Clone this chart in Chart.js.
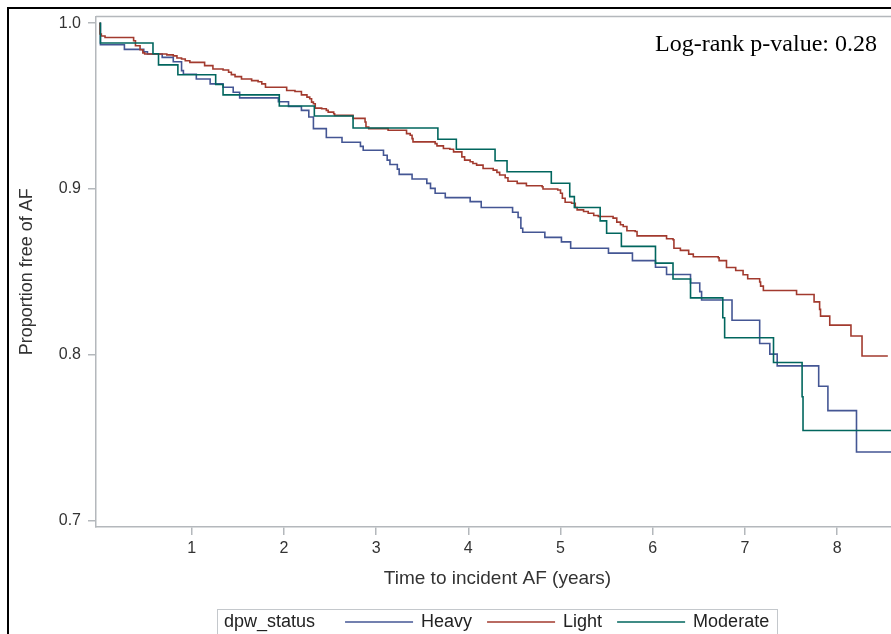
<!DOCTYPE html>
<html>
<head>
<meta charset="utf-8">
<title>Kaplan-Meier: proportion free of AF</title>
<script src="https://cdn.jsdelivr.net/npm/chart.js@4.4.1/dist/chart.umd.min.js"></script>
<style>
  html, body { margin: 0; padding: 0; background: #fff; overflow: hidden; width: 891px; height: 634px; }
  #wrap { position: relative; width: 891px; height: 634px; overflow: hidden; }
  #chartKM { position: absolute; left: 0; top: 0; }
  #frame {
    position: absolute; left: 7px; top: 7px; width: 900px; height: 700px;
    border-top: 2px solid #000; border-left: 2px solid #000; pointer-events: none;
  }
</style>
</head>
<body>
<div id="wrap">
  <canvas id="chartKM" width="899" height="634"></canvas>
  <div id="frame"></div>
</div>
<script>
/* ─────────────────────────────────────────
   DATOS
───────────────────────────────────────── */
const groupLabels = ["Heavy", "Light", "Moderate"];
const legendTitle = "dpw_status";
const pValueText = "Log-rank p-value: 0.28";
const xTitle = "Time to incident AF (years)";
const yTitle = "Proportion free of AF";
const xTickValues = [1, 2, 3, 4, 5, 6, 7, 8];
const yTickValues = [0.7, 0.8, 0.9, 1.0];

// Heavy
const heavyTime = [0, 0.01, 0.27, 0.48, 0.52, 0.68, 0.80, 0.89, 0.91, 1.05,
  1.20, 1.34, 1.45, 1.52, 1.94, 2.05, 2.19, 2.27, 2.32, 2.46,
  2.63, 2.83, 2.86, 3.08, 3.12, 3.15, 3.23, 3.25, 3.39, 3.55,
  3.59, 3.64, 3.75, 4.02, 4.14, 4.48, 4.54, 4.57, 4.59, 4.83,
  5.01, 5.11, 5.52, 5.78, 6.03, 6.15, 6.41, 6.51, 6.53, 6.86,
  7.16, 7.27, 7.35, 7.80, 7.90, 8.21, 8.70];
const heavySurv = [1.0, 0.9870, 0.9842, 0.9828, 0.9814, 0.9794, 0.9768, 0.9714, 0.9692, 0.9664,
  0.9634, 0.9614, 0.9584, 0.9550, 0.9526, 0.9498, 0.9474, 0.9434, 0.9364, 0.9311,
  0.9282, 0.9257, 0.9234, 0.9204, 0.9174, 0.9148, 0.9120, 0.9088, 0.9060, 0.9034,
  0.9004, 0.8974, 0.8948, 0.8924, 0.8888, 0.8860, 0.8828, 0.8763, 0.8739, 0.8708,
  0.8681, 0.8643, 0.8613, 0.8568, 0.8528, 0.8484, 0.8433, 0.8381, 0.8330, 0.8208,
  0.8068, 0.8004, 0.7933, 0.7810, 0.7663, 0.7413, 0.7413];

// Light
const lightTime = [0, 0.005, 0.02, 0.06, 0.37, 0.39, 0.44, 0.47, 0.49, 0.73,
  0.80, 0.84, 0.89, 0.93, 0.98, 1.14, 1.23, 1.34, 1.40, 1.43,
  1.47, 1.54, 1.65, 1.72, 1.76, 1.80, 2.03, 2.12, 2.19, 2.25,
  2.28, 2.30, 2.32, 2.34, 2.41, 2.46, 2.48, 2.54, 2.55, 2.75,
  2.88, 2.89, 2.92, 3.13, 3.33, 3.37, 3.39, 3.40, 3.64, 3.66,
  3.73, 3.80, 3.84, 3.93, 3.96, 4.02, 4.05, 4.09, 4.16, 4.27,
  4.31, 4.34, 4.40, 4.43, 4.53, 4.63, 4.80, 4.81, 4.97, 5.00,
  5.02, 5.05, 5.12, 5.16, 5.18, 5.25, 5.30, 5.36, 5.41, 5.57,
  5.61, 5.65, 5.68, 5.72, 5.81, 5.83, 6.15, 6.22, 6.23, 6.30,
  6.39, 6.44, 6.71, 6.72, 6.80, 6.90, 6.98, 7.03, 7.16, 7.17,
  7.20, 7.56, 7.75, 7.81, 7.82, 7.92, 8.15, 8.27, 8.55];
const lightSurv = [1.0, 0.9935, 0.9923, 0.9914, 0.9894, 0.9864, 0.9840, 0.9821, 0.9814, 0.9809,
  0.9803, 0.9790, 0.9784, 0.9774, 0.9764, 0.9744, 0.9724, 0.9718, 0.9704, 0.9690,
  0.9678, 0.9664, 0.9654, 0.9647, 0.9634, 0.9614, 0.9594, 0.9588, 0.9568, 0.9554,
  0.9544, 0.9524, 0.9514, 0.9488, 0.9484, 0.9474, 0.9464, 0.9454, 0.9444, 0.9426,
  0.9404, 0.9374, 0.9364, 0.9354, 0.9334, 0.9324, 0.9304, 0.9284, 0.9274, 0.9260,
  0.9244, 0.9240, 0.9224, 0.9194, 0.9174, 0.9164, 0.9154, 0.9144, 0.9124, 0.9114,
  0.9100, 0.9084, 0.9068, 0.9047, 0.9034, 0.9020, 0.9014, 0.9000, 0.8994, 0.8974,
  0.8944, 0.8920, 0.8914, 0.8888, 0.8874, 0.8864, 0.8854, 0.8840, 0.8834, 0.8824,
  0.8800, 0.8784, 0.8774, 0.8748, 0.8744, 0.8717, 0.8700, 0.8694, 0.8643, 0.8630,
  0.8607, 0.8591, 0.8585, 0.8568, 0.8526, 0.8508, 0.8483, 0.8459, 0.8439, 0.8414,
  0.8388, 0.8364, 0.8319, 0.8274, 0.8233, 0.8179, 0.8113, 0.7993, 0.7993];

// Moderate
const moderateTime = [0, 0.01, 0.58, 0.64, 0.85, 1.26, 1.34, 1.95, 2.33, 2.75,
  3.67, 3.87, 4.29, 4.42, 4.90, 5.10, 5.15, 5.43, 5.50, 5.66,
  6.03, 6.22, 6.41, 6.76, 6.78, 7.31, 7.62, 7.63, 8.70];
const moderateSurv = [1.0, 0.9881, 0.9816, 0.9749, 0.9689, 0.9630, 0.9568, 0.9501, 0.9440, 0.9368,
  0.9300, 0.9240, 0.9170, 0.9104, 0.9035, 0.8954, 0.8888, 0.8808, 0.8733, 0.8654,
  0.8553, 0.8457, 0.8343, 0.8223, 0.8103, 0.7953, 0.7747, 0.7543, 0.7543];

/* ─────────────────────────────────────────
   ESTILO
───────────────────────────────────────── */
const colors = ["#445694", "#A23A2E", "#01665E"];
const axisGrey = "#b4b8bc";
const textColor = "#333";
const sans = '"Liberation Sans", Arial, sans-serif';

Chart.defaults.font.family = sans;
Chart.defaults.color = textColor;

const toPoints = (t, s) => t.map((x, i) => ({ x, y: s[i] }));
const series = [
  toPoints(heavyTime, heavySurv),
  toPoints(lightTime, lightSurv),
  toPoints(moderateTime, moderateSurv),
];

/* marco superior del área de trazado + texto log-rank + leyenda */
const extrasPlugin = {
  id: "extras",
  afterDraw(chart) {
    const { ctx, chartArea } = chart;
    ctx.save();

    // borde superior del área
    ctx.strokeStyle = axisGrey;
    ctx.lineWidth = 1.5;
    ctx.beginPath();
    ctx.moveTo(chartArea.left, chartArea.top);
    ctx.lineTo(chartArea.right, chartArea.top);
    ctx.stroke();

    // p-valor
    ctx.font = '24px "Liberation Serif", "Times New Roman", serif';
    ctx.fillStyle = "#000";
    ctx.textAlign = "right";
    ctx.textBaseline = "alphabetic";
    ctx.fillText(pValueText, 877, 51);

    // leyenda
    const boxL = 217.5, boxT = 609.5, boxR = 777.5, cy = 622;
    ctx.strokeStyle = "#c4c8cc";
    ctx.lineWidth = 1;
    ctx.strokeRect(boxL, boxT, boxR - boxL, 40);

    ctx.font = "18px " + sans;
    ctx.fillStyle = "#222";
    ctx.textAlign = "left";
    ctx.textBaseline = "middle";
    let x = 224;
    ctx.fillText(legendTitle, x, cy);
    x += ctx.measureText(legendTitle).width + 30;

    chart.data.datasets.forEach((ds, i) => {
      ctx.strokeStyle = ds.borderColor;
      ctx.lineWidth = 1.6;
      ctx.beginPath();
      ctx.moveTo(x, cy);
      ctx.lineTo(x + 68, cy);
      ctx.stroke();
      x += 76;
      ctx.fillText(groupLabels[i], x, cy);
      x += ctx.measureText(groupLabels[i]).width + 15;
    });

    ctx.restore();
  }
};

new Chart(document.getElementById("chartKM"), {
  type: "line",
  data: {
    datasets: series.map((pts, i) => ({
      label: groupLabels[i],
      data: pts,
      borderColor: colors[i],
      borderWidth: 1.6,
      pointRadius: 0,
      fill: false,
      stepped: "before",
      order: 2 - i,
    }))
  },
  options: {
    responsive: false,
    animation: false,
    parsing: false,
    layout: { padding: { left: 0, top: 14, right: 0, bottom: 37 } },
    plugins: {
      legend: { display: false },
      tooltip: { enabled: false },
    },
    scales: {
      x: {
        type: "linear",
        min: -0.038,
        max: 8.671,
        afterBuildTicks: s => { s.ticks = xTickValues.map(v => ({ value: v })); },
        afterFit: s => { s.height = 70; },
        ticks: {
          font: { size: 16 },
          color: textColor,
          padding: 4,
          maxRotation: 0,
          callback: v => String(v),
        },
        grid: { drawOnChartArea: false, tickLength: 8, color: axisGrey, lineWidth: 1.5 },
        border: { display: true, color: axisGrey, width: 1.5 },
        title: {
          display: true,
          text: xTitle,
          font: { size: 19 },
          color: textColor,
          padding: { top: 0, bottom: 7 },
        },
      },
      y: {
        type: "linear",
        min: 0.6961,
        max: 1.004,
        afterBuildTicks: s => { s.ticks = yTickValues.map(v => ({ value: v })); },
        afterFit: s => { s.width = 96; },
        ticks: {
          font: { size: 16 },
          color: textColor,
          padding: 7,
          callback: v => v.toFixed(1),
        },
        grid: { drawOnChartArea: false, tickLength: 8, color: axisGrey, lineWidth: 1.5 },
        border: { display: true, color: axisGrey, width: 1.5 },
        title: {
          display: true,
          text: yTitle,
          font: { size: 18 },
          color: textColor,
          padding: { top: 16, bottom: 0 },
        },
      },
    },
  },
  plugins: [extrasPlugin],
});
</script>
</body>
</html>
